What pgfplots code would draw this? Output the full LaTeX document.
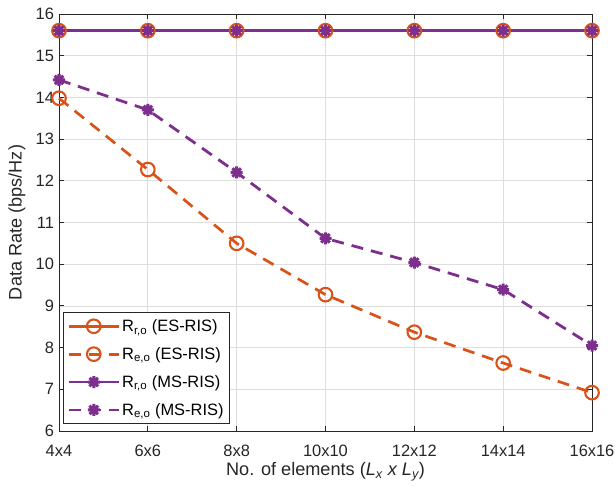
\documentclass[border=0pt]{standalone}
\usepackage{pgfplots}
\pgfplotsset{compat=1.18}
\usepackage{fontspec}
\setmainfont{Liberation Sans}
\definecolor{mOrange}{rgb}{0.85,0.325,0.098}
\definecolor{mPurple}{rgb}{0.494,0.184,0.556}
\definecolor{gridc}{gray}{0.87}
\pgfdeclareplotmark{mstar}{%
  \pgfpathmoveto{\pgfqpoint{-\pgfplotmarksize}{0pt}}\pgfpathlineto{\pgfqpoint{\pgfplotmarksize}{0pt}}%
  \pgfpathmoveto{\pgfqpoint{0pt}{-\pgfplotmarksize}}\pgfpathlineto{\pgfqpoint{0pt}{\pgfplotmarksize}}%
  \pgfpathmoveto{\pgfqpoint{-0.707\pgfplotmarksize}{-0.707\pgfplotmarksize}}\pgfpathlineto{\pgfqpoint{0.707\pgfplotmarksize}{0.707\pgfplotmarksize}}%
  \pgfpathmoveto{\pgfqpoint{-0.707\pgfplotmarksize}{0.707\pgfplotmarksize}}\pgfpathlineto{\pgfqpoint{0.707\pgfplotmarksize}{-0.707\pgfplotmarksize}}%
  \pgfusepathqstroke}
\begin{document}
\begin{tikzpicture}
\begin{axis}[
  scale only axis,
  width=533bp, height=417bp,
  xmin=0, xmax=6, ymin=6, ymax=16,
  xtick={0,1,2,3,4,5,6},
  xticklabels={4x4,6x6,8x8,10x10,12x12,14x14,16x16},
  ytick={6,7,8,9,10,11,12,13,14,15,16},
  /pgf/number format/assume math mode=true,
  tick label style={font=\fontsize{16.5}{19}\selectfont, text=black!85},
  label style={font=\fontsize{18.2}{21}\selectfont, text=black!85},
  xticklabel style={anchor=base, yshift=-25bp},
  yticklabel style={xshift=-1.5bp},
  xlabel={No. of elements (\textit{L\textsubscript{x} x L\textsubscript{y}})},
  ylabel={Data Rate (bps/Hz)},
  xlabel style={at={(axis description cs:0.5,-0.0983)}, anchor=center},
  ylabel style={at={(axis description cs:-0.0788,0.5)}, anchor=center},
  grid=major,
  major grid style={gridc, line width=0.7bp},
  axis line style={black!85, line width=0.8bp},
  tick style={black!85, line width=0.8bp},
  tick align=inside,
  major tick length=5bp,
  clip=false,
  legend style={at={(0.0075,0.0168)}, anchor=south west, draw=black!85, line width=0.7bp, fill=white,
    font=\fontsize{16.5}{19}\selectfont, row sep=10.5bp, inner xsep=4bp, inner ysep=5bp},
  legend cell align=left,
  legend image code/.code={\draw[mark repeat=2,mark phase=2] plot coordinates {(0bp,0bp) (25bp,0bp) (50bp,0bp)};},
]
\addplot[color=mOrange, line width=2.7bp, mark=o, mark size=6.8bp, mark options={solid, line width=2.1bp}]
  coordinates {(0,15.6) (1,15.6) (2,15.6) (3,15.6) (4,15.6) (5,15.6) (6,15.6)};
\addlegendentry{R\textsubscript{r,o} (ES-RIS)\hspace{3bp}}
\addplot[color=mOrange, line width=2.7bp, dash pattern=on 12bp off 8bp, mark=o, mark size=6.8bp, mark options={solid, line width=2.1bp}]
  coordinates {(0,13.98) (1,12.27) (2,10.5) (3,9.27) (4,8.37) (5,7.63) (6,6.92)};
\addlegendentry{R\textsubscript{e,o} (ES-RIS)}
\addplot[color=mPurple, line width=2.8bp, mark=mstar, mark size=6bp, mark options={solid, line width=3bp}]
  coordinates {(0,15.6) (1,15.6) (2,15.6) (3,15.6) (4,15.6) (5,15.6) (6,15.6)};
\addlegendentry{R\textsubscript{r,o} (MS-RIS)}
\addplot[color=mPurple, line width=2.8bp, dash pattern=on 12bp off 8bp, mark=mstar, mark size=6bp, mark options={solid, line width=3bp}]
  coordinates {(0,14.42) (1,13.7) (2,12.2) (3,10.62) (4,10.04) (5,9.39) (6,8.05)};
\addlegendentry{R\textsubscript{e,o} (MS-RIS)}
\end{axis}
\pgfresetboundingbox
\path ([shift={(-59bp,-56bp)}]current axis.south west) rectangle ([shift={(23bp,14bp)}]current axis.north east);
\end{tikzpicture}
\end{document}
